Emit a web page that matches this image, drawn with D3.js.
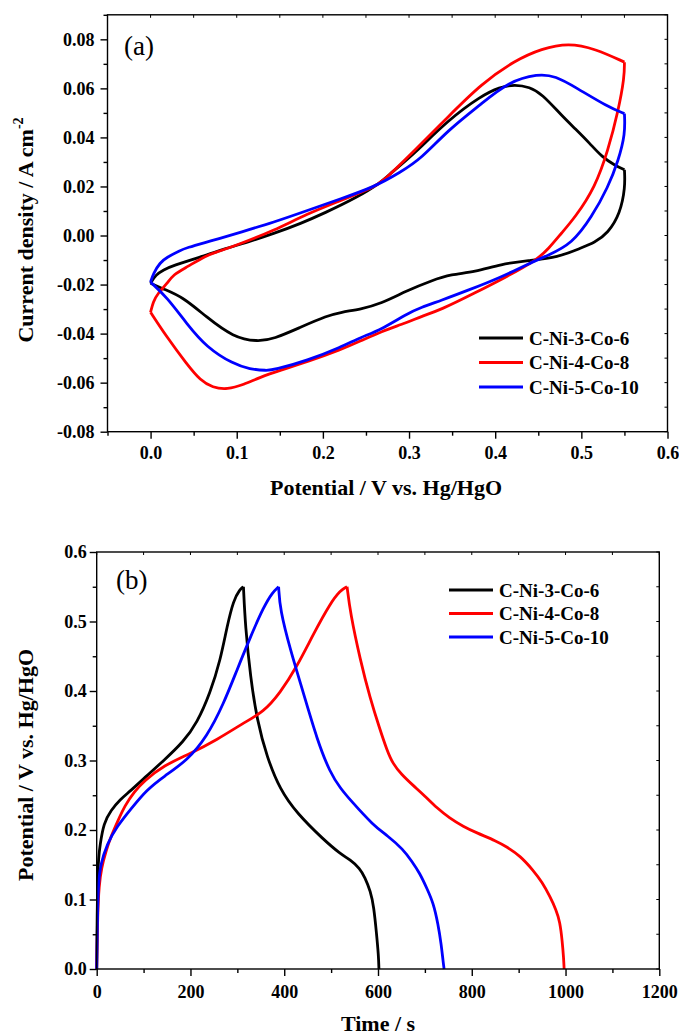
<!DOCTYPE html>
<html lang='en'>
<head>
  <title>CV and GCD curves</title>
  <script src='https://cdn.jsdelivr.net/npm/d3@7'></script>
  <style>
    body { margin: 0; background: #fff; }
    svg text { font-family: 'Liberation Serif', 'Times New Roman', serif; }
  </style>
</head>
<body>
  <script>
    // sample names
    const series = ["C-Ni-3-Co-6", "C-Ni-4-Co-8", "C-Ni-5-Co-10"];
    const colors = ["#000000", "#ff0000", "#0000ff"];

    // (a) CV curves, [potential V, current density A cm-2], forward and reverse sweep
    const cvBlackFwd = [[0,-0.0195],[0.006,-0.016],[0.015,-0.014],[0.026,-0.0122],[0.057,-0.0089],[0.085,-0.0055],[0.11,-0.003],[0.143,0.0008],[0.175,0.005],[0.201,0.009],[0.24,0.0156],[0.267,0.0215],[0.279,0.0255],[0.306,0.0333],[0.345,0.047],[0.384,0.057],[0.405,0.0605],[0.423,0.0616],[0.44,0.0605],[0.454,0.0578],[0.477,0.049],[0.493,0.0435],[0.51,0.0375],[0.524,0.032],[0.539,0.0286],[0.55,0.0268]];
    const cvBlackRev = [[0.55,0.0268],[0.551,0.0197],[0.545,0.0089],[0.531,0.001],[0.515,-0.003],[0.5,-0.005],[0.473,-0.0089],[0.438,-0.0102],[0.407,-0.0116],[0.376,-0.015],[0.349,-0.0158],[0.326,-0.0184],[0.298,-0.0224],[0.267,-0.0279],[0.244,-0.03],[0.221,-0.0313],[0.205,-0.0327],[0.174,-0.0374],[0.143,-0.0422],[0.124,-0.0433],[0.096,-0.0415],[0.065,-0.0333],[0.038,-0.0252],[0.015,-0.0218],[0,-0.0195]];
    const cvRedFwd = [[0,-0.0313],[0.003,-0.027],[0.008,-0.0238],[0.019,-0.0197],[0.026,-0.016],[0.042,-0.0129],[0.065,-0.008],[0.077,-0.0068],[0.104,-0.0034],[0.143,0.002],[0.182,0.0089],[0.221,0.0143],[0.259,0.0198],[0.267,0.0212],[0.306,0.0345],[0.345,0.0483],[0.384,0.0619],[0.423,0.0714],[0.454,0.0762],[0.485,0.0785],[0.516,0.0762],[0.55,0.0707]];
    const cvRedRev = [[0.55,0.0707],[0.55,0.0646],[0.543,0.051],[0.531,0.0347],[0.516,0.0197],[0.493,0.0075],[0.477,0.001],[0.462,-0.0054],[0.448,-0.01],[0.415,-0.0165],[0.376,-0.0235],[0.337,-0.0303],[0.314,-0.033],[0.298,-0.0355],[0.267,-0.0392],[0.244,-0.043],[0.221,-0.0465],[0.182,-0.0515],[0.15,-0.055],[0.127,-0.0578],[0.108,-0.0608],[0.089,-0.0628],[0.072,-0.062],[0.058,-0.0592],[0.042,-0.0524],[0.019,-0.0415],[0,-0.0313]];
    const cvBlueFwd = [[0,-0.019],[0.003,-0.0156],[0.011,-0.011],[0.019,-0.0089],[0.034,-0.0061],[0.042,-0.005],[0.065,-0.0027],[0.077,-0.0015],[0.104,0.0013],[0.143,0.0054],[0.182,0.0102],[0.221,0.015],[0.259,0.0197],[0.29,0.0258],[0.314,0.0313],[0.345,0.0429],[0.384,0.0537],[0.415,0.0626],[0.45,0.066],[0.47,0.065],[0.493,0.0605],[0.531,0.0524],[0.55,0.0497]];
    const cvBlueRev = [[0.55,0.0497],[0.551,0.0415],[0.543,0.0306],[0.531,0.0197],[0.512,0.0075],[0.489,-0.0034],[0.462,-0.008],[0.438,-0.0116],[0.407,-0.017],[0.368,-0.0224],[0.337,-0.0265],[0.314,-0.0293],[0.298,-0.0318],[0.267,-0.0385],[0.244,-0.0415],[0.221,-0.0455],[0.182,-0.051],[0.143,-0.0548],[0.135,-0.0551],[0.115,-0.0545],[0.096,-0.0524],[0.065,-0.0456],[0.042,-0.036],[0.019,-0.0252],[0,-0.019]];

    // (b) GCD curves, [time s, potential V], charge and discharge
    const gcdBlackChg = [[0,0],[1,0.08],[2,0.13],[4,0.16],[7,0.178],[15,0.21],[30,0.228],[50,0.244],[70,0.255],[107,0.278],[143,0.3],[185,0.327],[214,0.354],[242,0.397],[264,0.445],[278,0.493],[292,0.531],[305,0.546],[313,0.55]];
    const gcdBlackDis = [[313,0.55],[317,0.493],[328,0.42],[342,0.358],[363,0.305],[391,0.258],[427,0.224],[484,0.186],[519,0.166],[541,0.157],[561,0.145],[572,0.132],[584,0.112],[591,0.09],[597,0.05],[601,0.02],[602,0]];
    const gcdRedChg = [[0,0],[2,0.08],[5,0.12],[10,0.145],[20,0.17],[30,0.19],[45,0.213],[60,0.235],[80,0.255],[100,0.27],[143,0.293],[200,0.31],[257,0.33],[313,0.354],[356,0.37],[391,0.397],[427,0.435],[463,0.483],[498,0.526],[520,0.545],[534,0.55]];
    const gcdRedDis = [[534,0.55],[541,0.512],[562,0.445],[583,0.39],[604,0.345],[619,0.315],[632,0.295],[650,0.28],[675,0.264],[700,0.249],[725,0.232],[753,0.217],[782,0.205],[810,0.196],[853,0.184],[874,0.176],[903,0.163],[931,0.142],[950,0.125],[967,0.104],[980,0.085],[988,0.068],[993,0.04],[996,0.015],[997,0]];
    const gcdBlueChg = [[0,0],[2,0.09],[4,0.125],[8,0.15],[22,0.18],[43,0.205],[75,0.232],[107,0.258],[143,0.277],[193,0.3],[235,0.334],[271,0.382],[299,0.43],[328,0.478],[356,0.521],[375,0.542],[388,0.55]];
    const gcdBlueDis = [[388,0.55],[391,0.517],[413,0.459],[441,0.397],[470,0.33],[498,0.282],[520,0.26],[541,0.243],[591,0.206],[620,0.192],[654,0.172],[672,0.155],[689,0.138],[705,0.115],[718,0.095],[728,0.065],[735,0.035],[739,0.01],[741,0]];

    // ticks
    const cvXTicks = [0, 0.1, 0.2, 0.3, 0.4, 0.5, 0.6];
    const cvXMinor = [-0.05, 0.05, 0.15, 0.25, 0.35, 0.45, 0.55];
    const cvYTicks = [-0.08, -0.06, -0.04, -0.02, 0, 0.02, 0.04, 0.06, 0.08];
    const cvYMinor = [-0.07, -0.05, -0.03, -0.01, 0.01, 0.03, 0.05, 0.07, 0.09];
    const gcdXTicks = [0, 200, 400, 600, 800, 1000, 1200];
    const gcdXMinor = [100, 300, 500, 700, 900, 1100];
    const gcdYTicks = [0, 0.1, 0.2, 0.3, 0.4, 0.5, 0.6];
    const gcdYMinor = [0.05, 0.15, 0.25, 0.35, 0.45, 0.55];

    const width = 679, height = 1035;
    const svg = d3.select("body").append("svg")
      .attr("width", width)
      .attr("height", height)
      .attr("font-family", "'Liberation Serif', 'Times New Roman', serif");

    function drawPanel(cfg) {
      let x = cfg.x, y = cfg.y;
      let [x0, x1] = x.range(), [y0, y1] = y.range();
      let g = svg.append("g");

      // curves (basis smooths out reading noise, each branch keeps its end points)
      let line = d3.line()
        .x(d => x(d[0]))
        .y(d => y(d[1]))
        .curve(d3.curveBasis);
      cfg.curves.forEach((c, i) => {
        c.forEach(branch => {
          g.append("path")
            .attr("d", line(branch))
            .attr("fill", "none")
            .attr("stroke", colors[i])
            .attr("stroke-width", 2.8)
            .attr("stroke-linejoin", "round");
        });
      });

      // frame
      g.append("rect")
        .attr("x", x0).attr("y", y1)
        .attr("width", x1 - x0).attr("height", y0 - y1)
        .attr("fill", "none").attr("stroke", "#000").attr("stroke-width", 1.4);

      // small inner ticks on top and right
      g.selectAll(".tt").data(cfg.xTicks.concat(cfg.xMinor)).join("line")
        .attr("x1", d => x(d)).attr("x2", d => x(d))
        .attr("y1", y1).attr("y2", y1 + 3)
        .attr("stroke", "#000").attr("stroke-width", 1);
      g.selectAll(".rt").data(cfg.yTicks.concat(cfg.yMinor)).join("line")
        .attr("x1", x1 - 3).attr("x2", x1)
        .attr("y1", d => y(d)).attr("y2", d => y(d))
        .attr("stroke", "#000").attr("stroke-width", 1);

      // bottom axis
      let bx = g.append("g").attr("transform", `translate(0,${y0})`)
        .call(d3.axisBottom(x).tickValues(cfg.xTicks).tickSize(7).tickSizeOuter(0)
          .tickPadding(cfg.xPad).tickFormat(cfg.xFmt));
      let bxm = g.append("g").attr("transform", `translate(0,${y0})`)
        .call(d3.axisBottom(x).tickValues(cfg.xMinor).tickSize(4).tickSizeOuter(0).tickFormat(""));
      // left axis
      let ly = g.append("g").attr("transform", `translate(${x0},0)`)
        .call(d3.axisLeft(y).tickValues(cfg.yTicks).tickSize(7).tickSizeOuter(0)
          .tickPadding(cfg.yPad).tickFormat(cfg.yFmt));
      let lym = g.append("g").attr("transform", `translate(${x0},0)`)
        .call(d3.axisLeft(y).tickValues(cfg.yMinor).tickSize(4).tickSizeOuter(0).tickFormat(""));
      [bx, bxm, ly, lym].forEach(a => {
        a.attr("font-family", null).attr("font-size", null);
        a.select(".domain").remove();
        a.selectAll("line").attr("stroke", "#000").attr("stroke-width", 1.4);
        a.selectAll("text")
          .attr("font-size", 18).attr("font-weight", "bold").attr("fill", "#000");
      });

      // panel letter
      g.append("text").text(cfg.letter)
        .attr("x", cfg.letterPos[0]).attr("y", cfg.letterPos[1])
        .attr("font-size", 27);

      // axis titles
      g.append("text").text(cfg.xTitle)
        .attr("x", cfg.xTitlePos[0]).attr("y", cfg.xTitlePos[1])
        .attr("text-anchor", "middle")
        .attr("font-size", 22).attr("font-weight", "bold");
      let yt = g.append("text")
        .attr("transform", `translate(33,${cfg.yTitleY}) rotate(-90)`)
        .attr("text-anchor", "middle")
        .attr("font-size", 22).attr("font-weight", "bold");
      yt.append("tspan").text(cfg.yTitle);
      if (cfg.yTitleSup) {
        yt.append("tspan").text(cfg.yTitleSup)
          .attr("font-size", 14).attr("dy", -10);
      }

      // legend
      series.forEach((s, i) => {
        let ly0 = cfg.legend[1] + i * cfg.legend[2];
        g.append("line")
          .attr("x1", cfg.legend[0]).attr("x2", cfg.legend[0] + 44)
          .attr("y1", ly0).attr("y2", ly0)
          .attr("stroke", colors[i]).attr("stroke-width", 3);
        g.append("text").text(s)
          .attr("x", cfg.legend[0] + 50).attr("y", ly0)
          .attr("dy", "0.35em")
          .attr("font-size", 19).attr("font-weight", "bold");
      });
    }

    // (a) cyclic voltammetry
    drawPanel({
      x: d3.scaleLinear().domain([-0.05, 0.6]).range([107.5, 667.5]),
      y: d3.scaleLinear().domain([-0.08, 0.09]).range([431.7, 14.8]),
      curves: [[cvBlackFwd, cvBlackRev], [cvRedFwd, cvRedRev], [cvBlueFwd, cvBlueRev]],
      xTicks: cvXTicks, xMinor: cvXMinor, yTicks: cvYTicks, yMinor: cvYMinor,
      xFmt: d => d.toFixed(1), yFmt: d => d.toFixed(2),
      xPad: 8, yPad: 6,
      letter: "(a)", letterPos: [124, 55],
      xTitle: "Potential / V vs. Hg/HgO", xTitlePos: [386, 495],
      yTitle: "Current density / A cm", yTitleSup: "-2", yTitleY: 230,
      legend: [479, 338, 24.5]
    });

    // (b) galvanostatic charge-discharge
    drawPanel({
      x: d3.scaleLinear().domain([0, 1200]).range([96.7, 659.3]),
      y: d3.scaleLinear().domain([0, 0.6]).range([969, 552]),
      curves: [[gcdBlackChg, gcdBlackDis], [gcdRedChg, gcdRedDis], [gcdBlueChg, gcdBlueDis]],
      xTicks: gcdXTicks, xMinor: gcdXMinor, yTicks: gcdYTicks, yMinor: gcdYMinor,
      xFmt: d => String(d), yFmt: d => d.toFixed(1),
      xPad: 9, yPad: 3,
      letter: "(b)", letterPos: [116, 589],
      xTitle: "Time / s", xTitlePos: [378, 1031],
      yTitle: "Potential / V vs. Hg/HgO", yTitleSup: null, yTitleY: 765,
      legend: [449, 590, 23.5]
    });
  </script>
</body>
</html>
